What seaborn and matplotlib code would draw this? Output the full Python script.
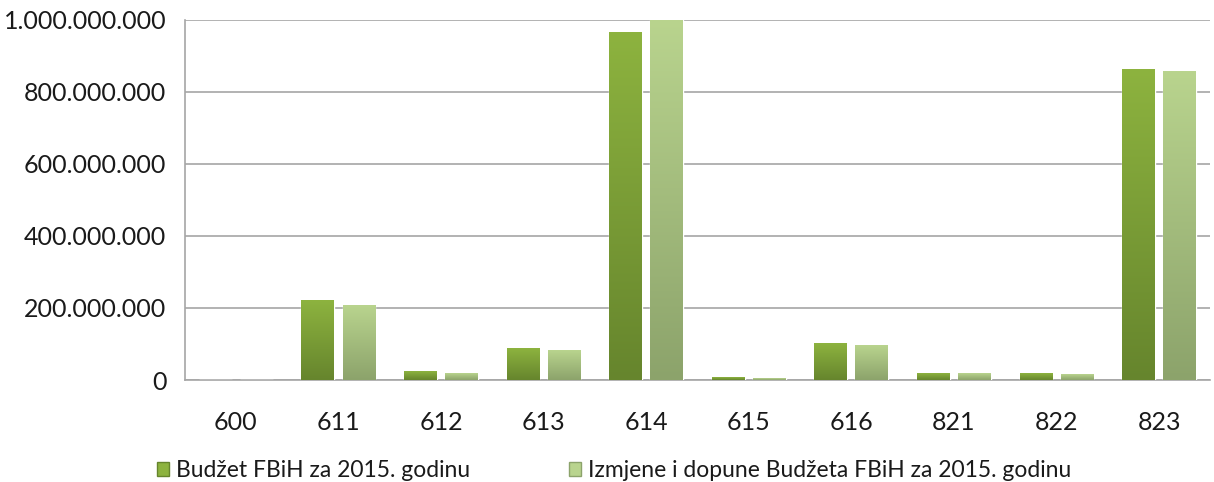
import numpy as np
import pandas as pd
import matplotlib
matplotlib.use("Agg")
import matplotlib.pyplot as plt
import seaborn as sns
from matplotlib.colors import LinearSegmentedColormap
from matplotlib.patches import Patch

# data
categories = ['600', '611', '612', '613', '614', '615', '616', '821', '822', '823']
budzet = [0, 222e6, 23e6, 87e6, 966e6, 8e6, 102e6, 19e6, 19e6, 863e6]
izmjene = [0, 208e6, 18e6, 82e6, 1000e6, 4.5e6, 97e6, 18e6, 15e6, 856e6]
series = ['Budžet FBiH za 2015. godinu',
          'Izmjene i dopune Budžeta FBiH za 2015. godinu']
y_ticks = [0, 200e6, 400e6, 600e6, 800e6, 1000e6]

df = pd.DataFrame({
    'kategorija': categories * 2,
    'iznos': budzet + izmjene,
    'serija': [series[0]] * len(categories) + [series[1]] * len(categories),
})

sns.set_style('white')
plt.rcParams['font.family'] = ['Lato', 'DejaVu Sans']
plt.rcParams['text.color'] = '#1a1a1a'

fig = plt.figure(figsize=(12.14, 4.82), dpi=100)
ax = fig.add_axes([0.152, 0.2116, 0.845, 0.747])

top_cols = ['#8db33f', '#b9d48e']
bot_cols = ['#66852d', '#8ca36b']

sns.barplot(data=df, x='kategorija', y='iznos', hue='serija', order=categories,
            hue_order=series, palette=top_cols, width=0.8, gap=0.2,
            ax=ax, legend=False, zorder=3)

# gradient fill on each bar
for i, cont in enumerate(ax.containers):
    cmap = LinearSegmentedColormap.from_list('g%d' % i, [bot_cols[i], top_cols[i]])
    grad = np.linspace(0, 1, 256).reshape(-1, 1)
    for bar in cont:
        x0 = bar.get_x()
        w = bar.get_width()
        h = bar.get_height()
        if h <= 0:
            continue
        ax.imshow(grad, extent=[x0, x0 + w, 0, h], origin='lower',
                  aspect='auto', cmap=cmap, zorder=4)

ax.set_xlim(-0.5, len(categories) - 0.5)
ax.set_ylim(0, 1000e6)
ax.set_yticks(y_ticks)
ax.set_yticklabels(['{:,.0f}'.format(v).replace(',', '.') for v in y_ticks])
ax.set_xlabel('')
ax.set_ylabel('')
ax.grid(axis='y', color='#a6a6a6', linewidth=1.2, zorder=0)
ax.set_axisbelow(True)
for s in ['top', 'right']:
    ax.spines[s].set_visible(False)
for s in ['left', 'bottom']:
    ax.spines[s].set_color('#a6a6a6')
    ax.spines[s].set_linewidth(1.2)
ax.tick_params(axis='y', length=6, color='#a6a6a6', labelsize=18, pad=7,
               labelcolor='#1a1a1a')
ax.tick_params(axis='x', length=0, labelsize=18, pad=22, labelcolor='#1a1a1a')

handles = [Patch(facecolor=top_cols[0], edgecolor=bot_cols[0]),
           Patch(facecolor=top_cols[1], edgecolor=bot_cols[1])]
fig.legend(handles, series, loc='center left', bbox_to_anchor=(0.112, 0.024),
           ncol=2, frameon=False, fontsize=16.5, handlelength=0.55,
           handleheight=0.55, handletextpad=0.3, columnspacing=4.3)

fig.savefig('out.png', dpi=100)
